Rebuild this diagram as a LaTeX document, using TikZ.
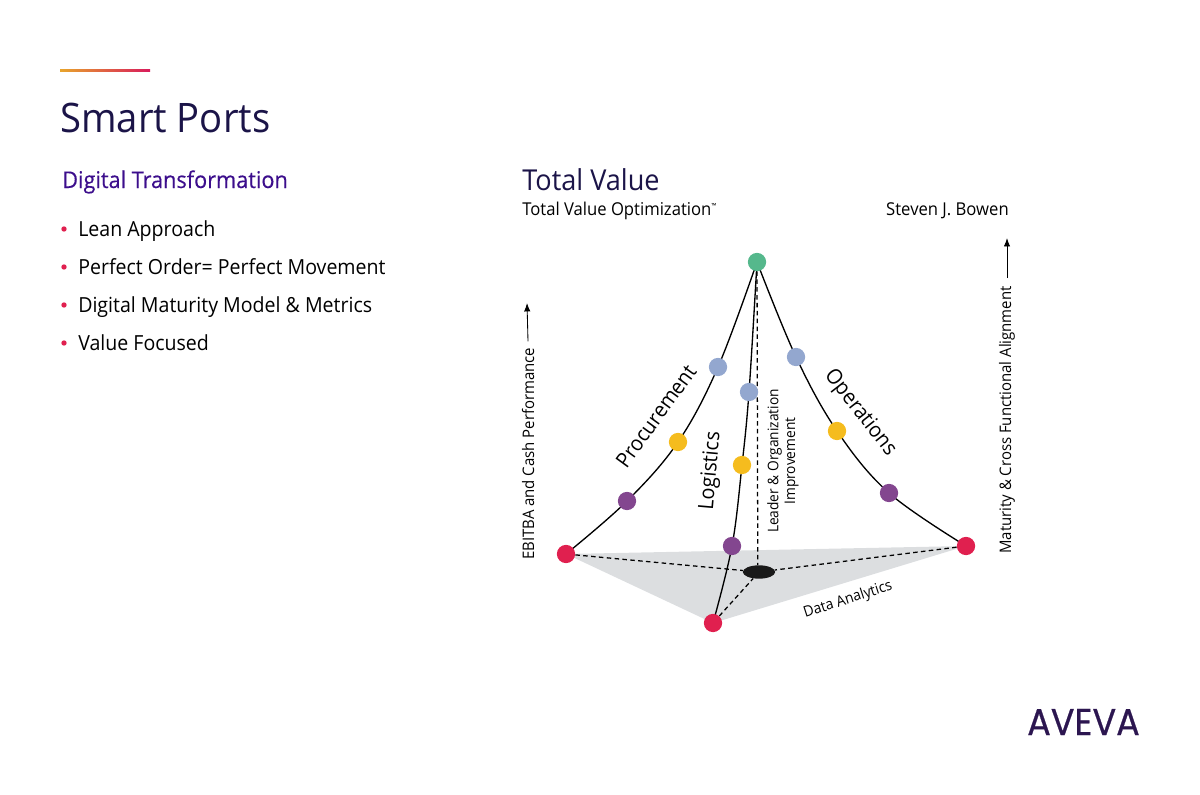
\documentclass[tikz,border=0pt]{standalone}
\usepackage{fontspec}
\setmainfont[FakeStretch=0.94]{Open Sans}
\newfontfamily\logofont[FakeStretch=0.94,FakeBold=0.6]{Poppins}
\usetikzlibrary{arrows.meta,shapes.geometric,backgrounds}
\usepackage{xcolor}
\definecolor{titleink}{HTML}{1B1448}
\definecolor{headink}{HTML}{3C0E8C}
\definecolor{logoink}{HTML}{2C1650}
\definecolor{redpt}{HTML}{E0204F}
\definecolor{greenpt}{HTML}{55B88C}
\definecolor{bluept}{HTML}{93A7CF}
\definecolor{yellowpt}{HTML}{F5BC1E}
\definecolor{purplept}{HTML}{83468F}
\definecolor{basegrey}{HTML}{DCDEE0}
\definecolor{ruleleft}{HTML}{E8A52C}
\definecolor{ruleright}{HTML}{D81B5C}
\tikzset{
  pt/.style={circle,inner sep=0pt,minimum size=13pt,fill=#1},
  lab/.style={inner sep=0pt,font=\fontsize{#1}{#1}\selectfont},
  bul/.style={circle,inner sep=0pt,minimum size=3.8pt,fill=redpt},
  dashline/.style={dash pattern=on 3.2pt off 2.4pt,line width=0.9pt},
  curveline/.style={line width=0.95pt},
  axisline/.style={-{Latex[length=6pt,width=4.5pt]},line width=0.6pt},
}
\begin{document}
\begin{tikzpicture}[x=0.025cm,y=-0.025cm]
\useasboundingbox (0,0) rectangle (1200,794);

% --- Header ---
\shade[left color=ruleleft,right color=ruleright] (60,70) rectangle (150,72);
\node[lab=28.9,text=titleink,anchor=base west] (title) at (60,133) {Smart Ports};
\node[lab=16.4,text=headink,anchor=base west] (head) at (62,188) {\addfontfeature{FakeBold=0.3}Digital Transformation};

% --- Bullets ---
\foreach \n/\y/\txt in {a/229/Lean Approach,b/267/Perfect Order= Perfect Movement,c/305/Digital Maturity Model \& Metrics,d/343/Value Focused} {
  \node[bul] (bul\n) at (64,\y) {};
  \node[lab=14.8,anchor=base west] (item\n) at (78,\y+7) {\txt};
}

% --- Right headings ---
\node[lab=20.5,text=titleink,anchor=base west] (total) at (522,190) {Total Value};
\node[lab=12.6,anchor=base west] (tvo) at (522,215) {Total Value Optimization\textsuperscript{\tiny\texttrademark}};
\node[lab=12.6,anchor=base east] (author) at (1009,215) {Steven J. Bowen};

% --- Points ---
\node[pt=greenpt] (top) at (757,262) {};
\foreach \n/\x/\y/\col in {bl/718/367/bluept,bm/749/392/bluept,br/796/357/bluept,
  yl/678/442/yellowpt,ym/742/465/yellowpt,yr/837/431/yellowpt,
  pl/627/501/purplept,pm/732/546/purplept,pr/889/493/purplept,
  rl/566/554/redpt,rf/713/623/redpt,rr/966/546/redpt} {
  \node[pt=\col] (\n) at (\x,\y) {};
}
\node[ellipse,inner sep=0pt,minimum width=23pt,minimum height=9.5pt,fill=black!90] (hub) at (759,572) {};

\begin{pgfonlayer}{background}
% --- Base triangle ---
\fill[basegrey] (rl.center) -- (rr.center) -- (rf.center) -- cycle;

% --- Dashed lines ---
\draw[dashline] (top) -- (hub.100);
\foreach \n in {rl,rr,rf} \draw[dashline] (\n) -- (hub);

% --- Curves ---
\draw[curveline] plot[smooth,tension=0.6] coordinates {(top) (bl) (yl) (pl) (rl)};
\draw[curveline] plot[smooth,tension=0.6] coordinates {(top) (bm) (ym) (pm) (rf)};
\draw[curveline] plot[smooth,tension=0.6] coordinates {(top) (br) (yr) (pr) (rr)};
\end{pgfonlayer}

% --- Curve labels ---
\node[lab=15,rotate=54] (proc) at (656,416) {Procurement};
\node[lab=15,rotate=-52] (oper) at (860,413) {Operations};
\node[lab=15,rotate=85] (logi) at (711,471) {Logistics};
\node[lab=10.4,rotate=90,align=center] (lead) at (783,461) {Leader \& Organization\\[1.5pt]Improvement};
\node[lab=10.6,rotate=18] (data) at (848,600) {Data Analytics};

% --- Side axes ---
\node[lab=11.3,rotate=90,anchor=west] (ebit) at (528,560) {EBITBA and Cash Performance};
\node[lab=11.3,rotate=90,anchor=west] (matu) at (1007,554) {Maturity \& Cross Functional Alignment};
\coordinate (ebitup) at (527,303);
\coordinate (matuup) at (1007,238);
\draw[axisline] (ebit.east) ++(0,-6) -- (ebitup);
\draw[axisline] (matu.east) ++(0,-8) -- (matuup);

% --- Logo ---
\node[lab=26.5,text=logoink,anchor=base] (logo) at (1083.5,735) {\logofont AVEVA};

\end{tikzpicture}
\end{document}
